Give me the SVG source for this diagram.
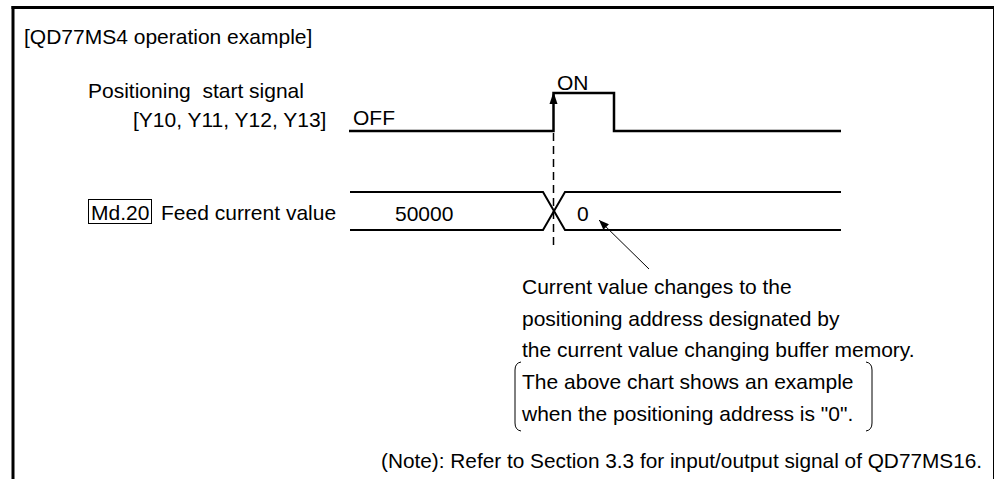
<svg xmlns="http://www.w3.org/2000/svg" width="995" height="479" viewBox="0 0 995 479">
<style>
text{font-family:"Liberation Sans",Arial,sans-serif;font-size:21px;fill:#000;white-space:pre}
.w{fill:none;stroke:#000;stroke-width:2.5}
.b{fill:none;stroke:#000;stroke-width:2}
.t{fill:none;stroke:#000;stroke-width:1}
</style>
<defs>
<marker id="ah" markerWidth="10" markerHeight="8" refX="10" refY="4" orient="auto" markerUnits="userSpaceOnUse">
<path d="M0,0 L10,4 L0,8 Z" fill="#000"/>
</marker>
</defs>
<g id="frame">
<line x1="11.5" y1="7.5" x2="994" y2="7.5" stroke="#000" stroke-width="3"/>
<line x1="13" y1="6" x2="13" y2="479" stroke="#000" stroke-width="3"/>
<line x1="993.5" y1="6" x2="993.5" y2="479" stroke="#000" stroke-width="1"/>
</g>
<g id="title"><text x="24" y="44">[QD77MS4 operation example]</text></g>
<g id="signal-label">
<text x="88" y="98" xml:space="preserve">Positioning  start signal</text>
<text x="133" y="127">[Y10, Y11, Y12, Y13]</text>
</g>
<g id="signal">
<polyline class="w" points="349,131 553.5,131 553.5,93 614,93 614,131 841,131"/>
<path d="M553.5,92 L549.5,104 L557.5,104 Z" fill="#000"/>
<text x="353" y="125">OFF</text>
<text x="557" y="90">ON</text>
</g>
<g id="feed-label">
<rect x="88.5" y="199.5" width="63" height="24" class="t"/>
<text x="91" y="220">Md.20</text>
<text x="161" y="220">Feed current value</text>
</g>
<g id="feed">
<polyline class="b" points="350,192 543,192 565,230 841,230"/>
<polyline class="b" points="350,230 543,230 565,192 841,192"/>
<text x="395" y="221">50000</text>
<text x="577" y="221">0</text>
</g>
<g id="connectors">
<line x1="553.5" y1="133" x2="553.5" y2="247" stroke="#000" stroke-width="1.5" stroke-dasharray="8 5"/>
<line x1="649" y1="269" x2="599" y2="220" class="t" marker-end="url(#ah)"/>
</g>
<g id="note">
<text x="522" y="294">Current value changes to the</text>
<text x="522" y="326">positioning address designated by</text>
<text x="522" y="357">the current value changing buffer memory.</text>
<text x="522" y="389">The above chart shows an example</text>
<text x="522" y="421">when the positioning address is "0".</text>
<path class="t" d="M521,362 Q515,363 515,370 L515,423 Q515,430 521,431"/>
<path class="t" d="M866,362 Q872,363 872,370 L872,423 Q872,430 866,431"/>
</g>
<g id="footer"><text x="381" y="468" style="font-size:20.8px">(Note): Refer to Section 3.3 for input/output signal of QD77MS16.</text></g>
</svg>
